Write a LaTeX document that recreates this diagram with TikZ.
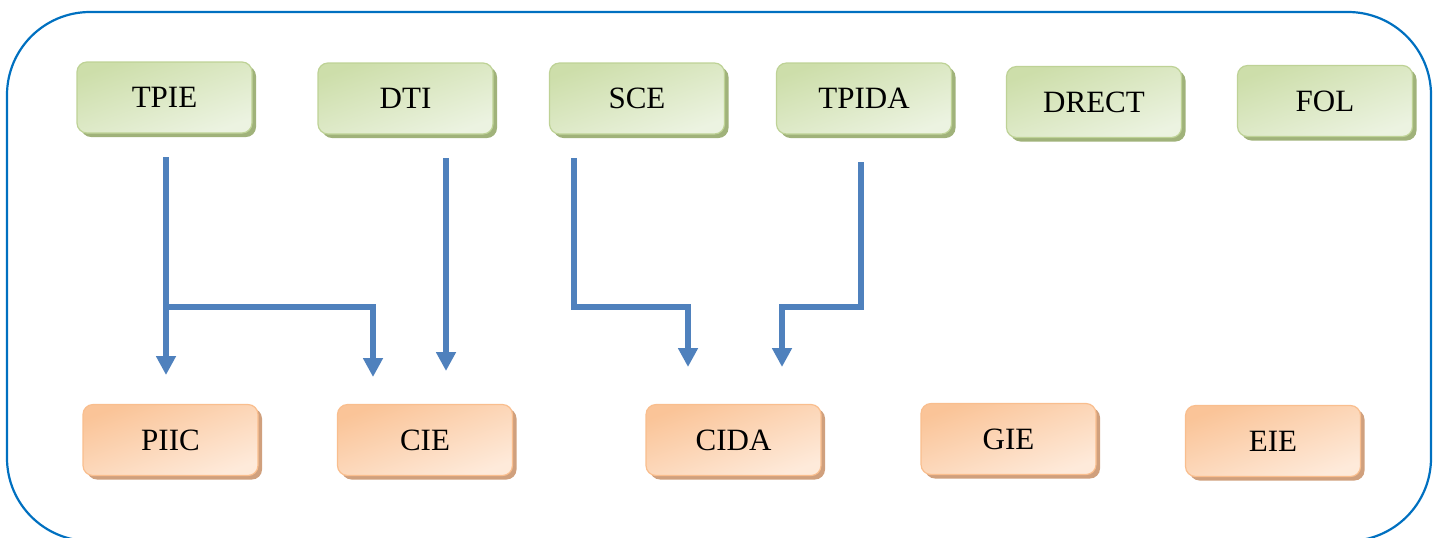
\documentclass[tikz,border=0pt]{standalone}
\usepackage{fontspec}
\setmainfont{Liberation Serif}
\usetikzlibrary{shadows,arrows.meta}
\definecolor{frameblue}{RGB}{0,112,192}
\definecolor{arrblue}{RGB}{79,129,189}
\definecolor{gA}{RGB}{205,222,170}
\definecolor{gB}{RGB}{236,243,225}
\definecolor{gD}{RGB}{190,210,150}
\definecolor{gS}{RGB}{160,178,122}
\definecolor{oA}{RGB}{250,196,152}
\definecolor{oB}{RGB}{254,234,218}
\definecolor{oD}{RGB}{249,190,142}
\definecolor{oS}{RGB}{208,160,125}
\tikzset{
  x=0.5pt,y=-0.5pt,
  box/.style={rounded corners=5pt,minimum width=87.5pt,minimum height=35.5pt,
     inner sep=0pt,font=\fontsize{15.5}{18}\selectfont,line width=0.6pt},
  gbox/.style={box,draw=gD,top color=gA,bottom color=gB,shading angle=20,
     drop shadow={shadow xshift=2pt,shadow yshift=-2pt,fill=gS,opacity=1}},
  obox/.style={box,draw=oD,top color=oA,bottom color=oB,shading angle=20,
     drop shadow={shadow xshift=2pt,shadow yshift=-2pt,fill=oS,opacity=1}},
  conn/.style={draw=arrblue,line width=3pt,-{Triangle[width=9.5pt,length=9.5pt]}}
}
\begin{document}
\begin{tikzpicture}
\useasboundingbox (0,0) rectangle (1433,537);
\begin{scope}
\clip (0,0) rectangle (1433,537);
\draw[frameblue,line width=1.1pt,rounded corners=41.5pt] (7,12) rectangle (1431,541);
\end{scope}
% top boxes
\node[gbox] (tpie)  at (164.5,97.5) {TPIE};
\node[gbox] (dti)   at (405.5,98.5) {DTI};
\node[gbox] (sce)   at (637,98.5) {SCE};
\node[gbox] (tpida) at (864,98.5) {TPIDA};
\node[gbox] (drect) at (1094,102) {DRECT};
\node[gbox] (fol)   at (1325,101) {FOL};
% bottom boxes
\node[obox] (piic) at (170.5,440) {PIIC};
\node[obox] (cie)  at (425,440) {CIE};
\node[obox] (cida) at (733.5,440) {CIDA};
\node[obox] (gie)  at (1008.5,439) {GIE};
\node[obox] (eie)  at (1273,441) {EIE};
% connector ends
\coordinate (s1) at (166,157);
\coordinate (j1) at (166,307);
\coordinate (e1) at (166,375);
\coordinate (e2) at (373,377);
\coordinate (s3) at (446,158);
\coordinate (e3) at (446,371);
\coordinate (s4) at (574,158);
\coordinate (e4) at (688,367);
\coordinate (s5) at (861,162);
\coordinate (e5) at (782,367);
\draw[conn] (s1) -- (e1);
\draw[conn] (j1) -| (e2);
\draw[conn] (s3) -- (e3);
\draw[conn] (s4) |- (688,307) -- (e4);
\draw[conn] (s5) |- (782,307) -- (e5);
\end{tikzpicture}
\end{document}
